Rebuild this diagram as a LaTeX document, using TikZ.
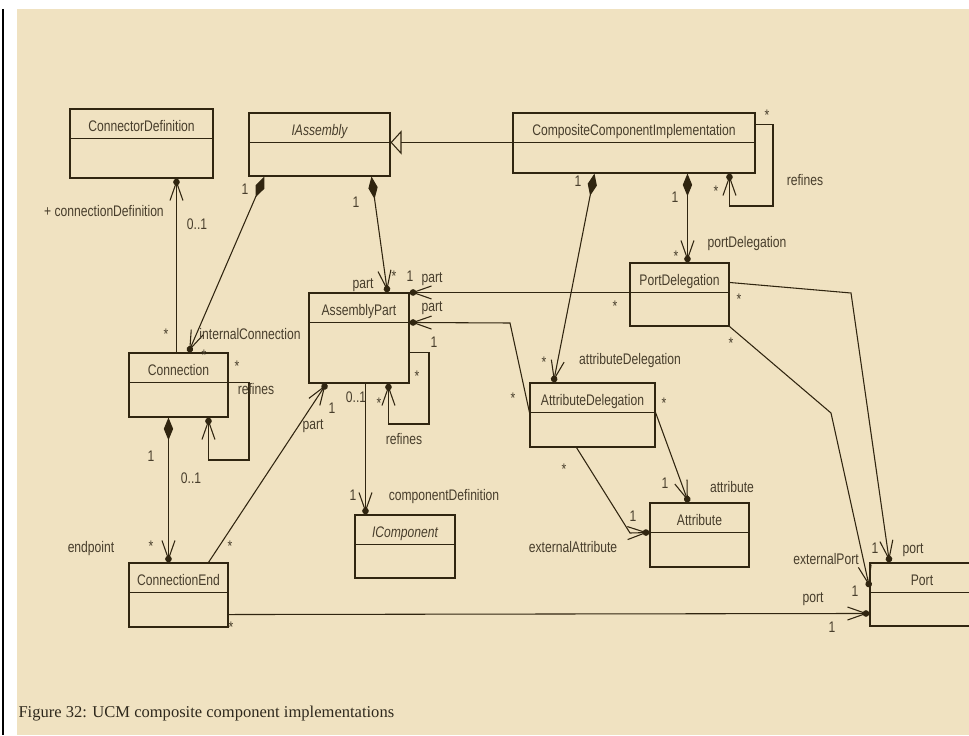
\documentclass[tikz,border=0pt]{standalone}
\usepackage{fontspec}
\setmainfont{Liberation Serif}
\newfontfamily\umlfont[FakeStretch=0.79]{Liberation Sans}
\usepackage{tikz}
\usetikzlibrary{
  arrows.meta,
  calc,                 % Calculations $...$
  fit,                  % Class boxes spanning two corners
  decorations.markings, % Dot and open head at owned ends
}
\definecolor{paper}{RGB}{240,226,193}
\definecolor{ink}{RGB}{48,37,16}
\definecolor{labelink}{RGB}{72,62,44}
\definecolor{captionink}{RGB}{46,40,28}
\newcommand{\umlsize}{\fontsize{11.5}{13}\selectfont}
\def\mycompdist{30}   % height of the name compartment
\def\mynamedist{18}
\tikzset{
  uml/.style={
    x=0.75pt,
    y=-0.75pt,
    line width=0.8pt,
    color=ink
  },
  class box/.style={
    draw,
    rectangle,
    inner sep=0pt
  },
  class name/.style={
    font=\umlfont\umlsize,
    text=labelink,
    inner sep=0pt,
    text height=8pt,
    text depth=0pt
  },
  role/.style={
    class name
  },
  composite/.style={
    arrows={{Diamond[length=17pt,width=7pt]}-}
  },
  generalization/.style={
    -{Triangle[open,length=8.25pt,width=18pt]}
  },
  % Filled dot on the border plus open head (decorations.markings)
  owned end/.style={
    decoration={markings,mark=at position 1 with {
      \fill[ink] (-3.5,0) circle (2.5pt);
      \draw[-,ink,line width=0.8pt] (-22,6.5) -- (-3.5,0) -- (-22,-6.5);
    }},
    postaction={decorate}
  }
}
\newcommand{\umlclass}[4][]{%
  \node[class box, fit={#3}] (#2) {};
  \node[class name] (#2-name) at ($(#2.north)+(0,\mynamedist)$) {#1#4};
  \draw ($(#2.north west)+(0,\mycompdist)$) -- ($(#2.north east)+(0,\mycompdist)$);
}

\begin{document}
\begin{tikzpicture}[uml]
\useasboundingbox (0,0) rectangle (969,735);
\clip (0,0) rectangle (969,735);
\fill[white] (0,0) rectangle (969,735);
\fill[paper] (17,9) rectangle (969,735);
\draw[black,line width=1pt] (3,9) -- (3,735);

% Classes
\umlclass{cdef}{(70,109) (213,178)}{ConnectorDefinition}
\umlclass[\itshape]{iasm}{(249,113) (390,176)}{IAssembly}
\umlclass{cci}{(513,113) (755,173)}{CompositeComponentImplementation}
\umlclass{pdel}{(630,263) (729,326)}{PortDelegation}
\umlclass{apart}{(309,293) (409,383)}{AssemblyPart}
\umlclass{conn}{(129,353) (228,417)}{Connection}
\umlclass{adel}{(530,383) (655,447)}{AttributeDelegation}
\umlclass{attr}{(650,503) (749,567)}{Attribute}
\umlclass{port}{(870,563) (974,626)}{Port}
\umlclass{cend}{(129,563) (228,627)}{ConnectionEnd}
\umlclass[\itshape]{icomp}{(355,515) (455,578)}{IComponent}

% Generalization
\draw[generalization] ($(cci.north west)+(0,\mycompdist)$) -- ($(iasm.north east)+(0,\mycompdist)$);

% Compositions
\draw[composite, owned end] ($(cci.south west)+(175,0)$) -- ($(pdel.north west)+(58,0)$);
\draw[composite, owned end] ($(cci.south west)+(82,0)$) -- ($(adel.north west)+(24,0)$);
\draw[composite, owned end] ($(iasm.south west)+(16,0)$) -- ($(conn.north west)+(60,0)$);
\draw[composite, owned end] ($(iasm.south west)+(123,0)$) -- ($(apart.north west)+(79,0)$);
\draw[composite, owned end] ($(conn.south west)+(40,0)$) -- ($(cend.north west)+(40,0)$);

% Self loops (refines)
\draw[owned end] ($(cci.north east)+(0,12)$) -| (773,206) -| ($(cci.south west)+(217,0)$);
\draw[owned end] ($(conn.north east)+(0,\mycompdist)$) -| (249,460) -| ($(conn.south west)+(80,0)$);
\draw[owned end] ($(apart.north east)+(0,60)$) -| (429,424) -| ($(apart.south west)+(80,0)$);

% Associations
\draw[owned end] ($(conn.north west)+(48,0)$) -- ($(cdef.south west)+(107,0)$);
\draw[owned end] ($(cend.north west)+(80,0)$) -- ($(apart.south west)+(18,0)$);
\draw[owned end] ($(cend.south east)+(0,-13)$) -- ($(port.north west)+(0,51)$);
\draw[owned end] ($(apart.south west)+(57,0)$) -- ($(icomp.north west)+(11,0)$);
\draw[owned end] ($(pdel.north west)+(0,\mycompdist)$) -- (apart.north east);
\draw[owned end] ($(adel.north west)+(0,\mycompdist)$) -- (510,323) -- ($(apart.north east)+(0,\mycompdist)$);
\draw[owned end] ($(pdel.north east)+(0,20)$) -- (851,293) -- ($(port.north west)+(20,0)$);
\draw[owned end] (pdel.south east) -- (831,413) -- ($(port.north west)+(0,25)$);
\draw[owned end] ($(adel.north east)+(0,\mycompdist)$) -- ($(attr.north west)+(39,0)$);
\draw[owned end] ($(adel.south west)+(47,0)$) -- (630,533) -- ($(attr.north west)+(0,\mycompdist)$);

% Role names and multiplicities
\foreach \lbltext/\x/\y [count=\i] in {
    */767/115, */716/191, refines/805/180,                  % cci refines
    1/675/197, */676/256, portDelegation/747/242,
    1/578/181, */544/362, attributeDelegation/630/359,
    1/245/189, internalConnection/250/334, */204/355,
    1/356/202, */394/276, part/363/283,
    + connectionDefinition/104/211, 0..1/197/224, */166/334,
    */237/366, refines/256/389,                             % conn refines
    1/151/456, 0..1/191/478, endpoint/91/547, */151/546,
    */230/546, 1/332/408, part/313/424,
    */231/627, port/813/597, 1/832/627,
    0..1/356/397, 1/353/495, componentDefinition/444/495,
    */417/376, */379/403, refines/404/439,                  % apart refines
    */615/306, 1/410/276, part/432/277,
    part/432/306, 1/434/342, */513/398,
    */739/299, 1/875/548, port/913/548,
    */731/343, externalPort/826/559, 1/855/591,
    */664/403, 1/665/483, attribute/732/487,
    */564/469, 1/633/516, externalAttribute/573/547}
  \node[role] (role-\i) at (\x,\y) {\lbltext};

\node[anchor=base west, inner sep=0pt, text=captionink,
      font=\fontsize{12.4}{15}\selectfont] (caption) at (18,717)
  {Figure 32: UCM composite component implementations};
\end{tikzpicture}
\end{document}
